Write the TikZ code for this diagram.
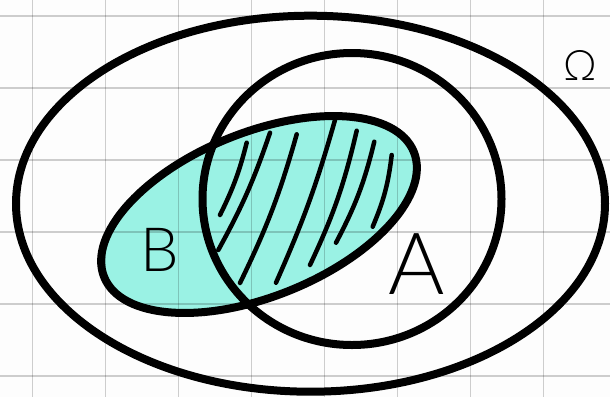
\documentclass[tikz,border=0pt]{standalone}
\usepackage{fontspec}
\setsansfont{Lato}
\newfontfamily\thinfont{Lato Light}
\definecolor{bfill}{RGB}{154,242,228}
\definecolor{bgc}{RGB}{253,253,253}
\begin{document}
\begin{tikzpicture}[x=1pt,y=-1pt,
  gridline/.style={black,opacity=0.19,line width=1.6pt},
  setline/.style={black,line width=8pt},
  hatch/.style={black,line width=4.5pt,line cap=round},
  lbl/.style={inner sep=0pt}]
\fill[bgc] (0,0) rectangle (610,397);
\useasboundingbox (0,0) rectangle (610,397);
% B fill
\fill[bfill,shift={(259,214.5)},rotate=22] (0,0) ellipse [x radius=167, y radius=82];
% grid
\foreach \gx in {32.3,105.3,178.3,251.3,324.3,397.3,470.3,543.3}
  \draw[gridline] (\gx,0) -- (\gx,397);
\foreach \gy in {15.7,87.7,159.7,231.7,303.7,375.7}
  \draw[gridline] (0,\gy) -- (610,\gy);
% hatching
\draw[hatch] (220,215) to[bend right=6] (246.7,142.7);
\draw[hatch] (218.3,250) to[bend right=5] (270,132.7);
\draw[hatch] (240,283) to[bend right=5] (296.7,134.3);
\draw[hatch] (276,282.7) to[bend right=4] (335,120);
\draw[hatch] (310,265) to[bend right=6] (356.7,130.7);
\draw[hatch] (336,242.7) to[bend right=7] (374.3,141.7);
\draw[hatch] (372.7,226.7) to[bend right=8] (391.7,155);
% outlines
\draw[setline,shift={(259,214.5)},rotate=22] (0,0) ellipse [x radius=167, y radius=82];
\draw[setline] (352,199) ellipse [x radius=149.5, y radius=146];
\draw[setline] (310.5,203.7) ellipse [x radius=294.5, y radius=188];
% labels
\node[lbl,font=\thinfont\fontsize{61}{61}\selectfont] (labB) at (160,250) {B};
\node[lbl,font=\thinfont\fontsize{86}{86}\selectfont] (labA) at (417,264) {A};
\node[lbl,font=\thinfont\fontsize{42}{42}\selectfont] (labO) at (580,65) {Ω};
\end{tikzpicture}
\end{document}
